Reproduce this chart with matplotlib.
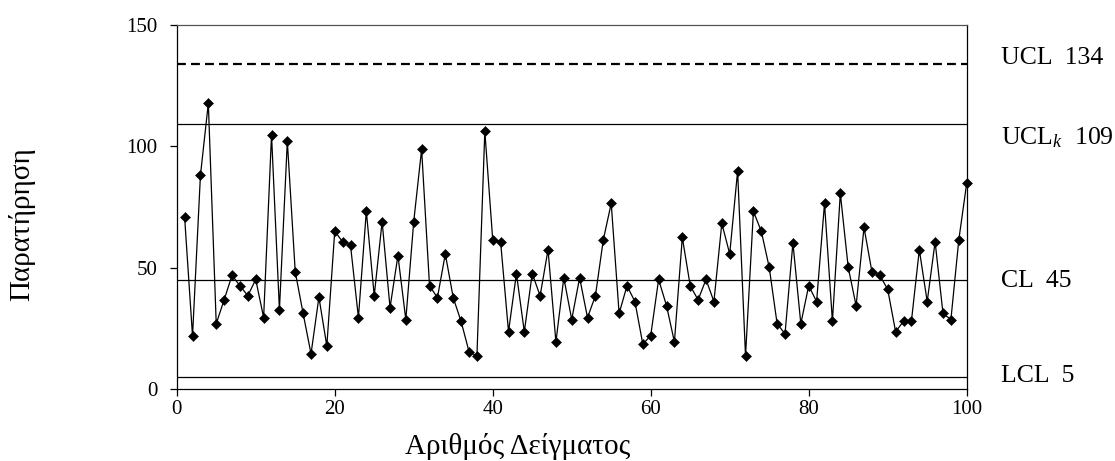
import matplotlib
matplotlib.use('Agg')
import matplotlib.pyplot as plt

plt.rcParams['font.family'] = ['Liberation Serif', 'DejaVu Serif']
plt.rcParams['mathtext.fontset'] = 'custom'
plt.rcParams['mathtext.rm'] = 'Liberation Serif'
plt.rcParams['mathtext.it'] = 'Liberation Serif:italic'

# ── data ─────────────────────────────────────────────────────────────────────
sample_no = list(range(1, 101))
observations = [
    70.7, 21.9, 88.0, 117.7, 27.0, 36.8, 46.9, 42.6, 38.5, 45.2,
    29.5, 104.7, 32.7, 102.1, 48.4, 31.2, 14.6, 37.9, 17.8, 65.0,
    60.7, 59.2, 29.5, 73.3, 38.5, 69.0, 33.6, 55.0, 28.7, 69.0,
    98.7, 42.6, 37.7, 55.7, 37.7, 27.9, 15.5, 13.7, 106.2, 61.5,
    60.6, 23.7, 47.6, 23.7, 47.6, 38.5, 57.4, 19.5, 45.9, 28.7,
    45.9, 29.5, 38.5, 61.5, 76.5, 31.2, 42.6, 36.1, 18.6, 22.1,
    45.2, 34.4, 19.5, 62.5, 42.6, 36.8, 45.2, 36.1, 68.3, 55.7,
    89.8, 13.7, 73.2, 65.0, 50.2, 27.0, 22.8, 60.2, 27.0, 42.6,
    36.1, 76.5, 28.0, 80.6, 50.2, 34.4, 66.6, 48.4, 46.9, 41.1,
    23.7, 28.0, 28.0, 57.4, 36.1, 60.7, 31.2, 28.7, 61.5, 84.8,
]
limit_names = ['UCL', r'UCL$_{k}$', 'CL', 'LCL']
limit_values = [134, 109, 45, 5]
limit_styles = ['dashed', 'solid', 'solid', 'solid']
x_ticks = [0, 20, 40, 60, 80, 100]
y_ticks = [0, 50, 100, 150]

fig = plt.figure(figsize=(11.15, 4.61), dpi=100)
ax = fig.add_axes([0.1585, 0.1555, 0.7085, 0.7909])

# control limits
for name, val, ls in zip(limit_names, limit_values, limit_styles):
    if ls == 'dashed':
        ax.axhline(val, color='black', lw=1.6, linestyle=(0, (4.0, 2.3)), zorder=1)
    else:
        ax.axhline(val, color='black', lw=0.9, zorder=1)

ax.plot(sample_no, observations, color='black', lw=0.9, marker='D',
        markersize=5.0, markeredgewidth=0.4, zorder=3, clip_on=False)

ax.set_xlim(0, 100)
ax.set_ylim(0, 150)
ax.set_xticks(x_ticks)
ax.set_yticks(y_ticks)
ax.tick_params(direction='out', length=5, width=0.9, labelsize=15,
               colors='black')
ax.tick_params(axis='y', pad=9)
ax.tick_params(axis='x', pad=3)
for side in ('top', 'right', 'left', 'bottom'):
    ax.spines[side].set_linewidth(0.9)
ax.spines['top'].set_color('#555555')

# limit labels to the right of the plot
label_y = {'UCL': 136.5, r'UCL$_{k}$': 103.5, 'CL': 44.6, 'LCL': 5.4}
for name, val in zip(limit_names, limit_values):
    ax.text(1.043, label_y[name], f'{name}  {val}', transform=ax.get_yaxis_transform(),
            ha='left', va='center', fontsize=18.5)

fig.text(22 / 1115, 1 - 224 / 461, 'Παρατήρηση', rotation=90, ha='center',
         va='center', fontsize=21)
fig.text(518 / 1115, 1 - 446 / 461, 'Αριθμός Δείγματος', ha='center',
         va='center', fontsize=21)

fig.savefig('out.png', dpi=100, facecolor='white')
